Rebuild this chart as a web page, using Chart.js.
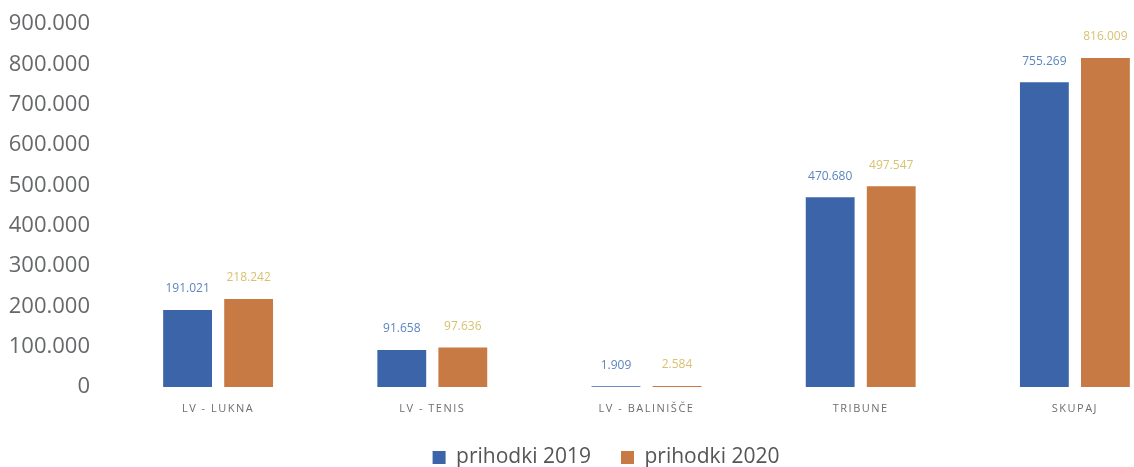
<!DOCTYPE html>
<html>
<head>
<meta charset="utf-8">
<script src="https://cdn.jsdelivr.net/npm/chart.js@4"></script>
<style>
  html, body { margin: 0; padding: 0; background: #fff; overflow: hidden; }
  #wrap { width: 1212px; height: 478px; }
</style>
</head>
<body>
<div id="wrap"><canvas id="chart"></canvas></div>
<script>
const categories = ['LV - LUKNA', 'LV - TENIS', 'LV - BALINIŠČE', 'TRIBUNE', 'SKUPAJ'];
const prihodki2019 = [191021, 91658, 1909, 470680, 755269];
const prihodki2020 = [218242, 97636, 2584, 497547, 816009];
const yTicks = [0, 100000, 200000, 300000, 400000, 500000, 600000, 700000, 800000, 900000];

function fmt(v) {
  return v.toString().replace(/\B(?=(\d{3})+(?!\d))/g, '.');
}

// value labels above bars + spaced category labels under the axis
const extraLabels = {
  id: 'extraLabels',
  afterLayout(chart) {
    // centre the legend under the whole picture, not only the plot
    chart.legend.left += 15;
    chart.legend.right += 15;
  },
  afterDatasetsDraw(chart) {
    const ctx = chart.ctx;
    const colors = ['#5a86bd', '#d9c172'];
    ctx.save();
    ctx.font = '12px "Open Sans"';
    ctx.textAlign = 'center';
    ctx.textBaseline = 'middle';
    chart.data.datasets.forEach((ds, i) => {
      chart.getDatasetMeta(i).data.forEach((bar, j) => {
        ctx.fillStyle = colors[i];
        ctx.fillText(fmt(ds.data[j]), bar.x, bar.y - 21);
      });
    });

    const xs = chart.scales.x;
    ctx.font = '11px "Open Sans"';
    ctx.letterSpacing = '1.5px';
    ctx.fillStyle = '#6e6e6e';
    chart.data.labels.forEach((lab, i) => {
      ctx.fillText(lab, xs.getPixelForTick(i), chart.chartArea.bottom + 22);
    });
    ctx.restore();
  }
};

new Chart(document.getElementById('chart'), {
  type: 'bar',
  data: {
    labels: categories,
    datasets: [
      { label: 'prihodki 2019', data: prihodki2019, backgroundColor: '#3c64a8' },
      { label: 'prihodki 2020', data: prihodki2020, backgroundColor: '#c87a44' }
    ]
  },
  options: {
    responsive: true,
    maintainAspectRatio: false,
    animation: false,
    datasets: { bar: { barPercentage: 0.8, categoryPercentage: 0.57 } },
    layout: { padding: { top: 24, right: 30, left: 0, bottom: 0 } },
    scales: {
      y: {
        min: 0,
        max: 900000,
        afterBuildTicks(axis) { axis.ticks = yTicks.map(v => ({ value: v })); },
        afterFit(axis) { axis.width = 111; axis.paddingTop = 0; },
        grid: { display: false },
        border: { display: false },
        ticks: {
          padding: 13,
          color: '#66686a',
          font: { family: 'Open Sans', size: 22 },
          callback: v => fmt(v)
        }
      },
      x: {
        afterFit(axis) { axis.height = 30; },
        grid: { display: false },
        border: { display: false },
        ticks: { display: false }
      }
    },
    plugins: {
      legend: {
        position: 'bottom',
        labels: {
          boxWidth: 13,
          boxHeight: 13,
          padding: 30,
          color: '#555',
          font: { family: 'Open Sans', size: 21 }
        }
      },
      tooltip: { enabled: false }
    }
  },
  plugins: [extraLabels]
});
</script>
</body>
</html>
